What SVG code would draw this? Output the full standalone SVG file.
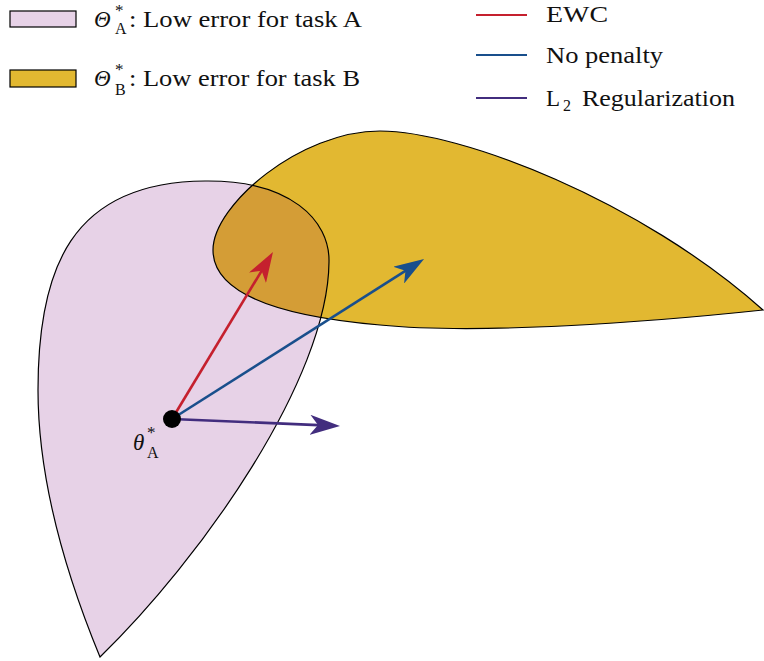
<svg xmlns="http://www.w3.org/2000/svg" xmlns:xlink="http://www.w3.org/1999/xlink" width="764" height="661" viewBox="0 0 764 661">
<style>
  text { font-family: "Liberation Serif", "Times New Roman", serif; fill: #111; font-size: 23px; }
  .it { font-style: italic; }
  .sub { font-size: 16px; font-style: normal; }
  .ast { font-size: 17px; font-style: normal; }
  .outline { fill: none; stroke: #000; stroke-width: 1.2; }
  .arrow { fill: none; stroke-width: 2.6; }
</style>
<defs>
  <path id="shapeA" d="M100,657 C60,560 38,470 38,390 C38,270 70,182 205,181 C290,180 330,220 329,262 C328,380 200,560 100,657 Z"/>
  <path id="shapeB" d="M213,250 C213,205 300,131 380,131 C460,131 640,200 763,310 C650,322 480,335 380,325 C300,318 213,300 213,250 Z"/>
  <clipPath id="clipA"><use xlink:href="#shapeA"/></clipPath>
  <marker id="headRed" viewBox="0 0 30 20" refX="20" refY="10" markerWidth="30" markerHeight="20" markerUnits="userSpaceOnUse" orient="auto">
    <path d="M30,10 L0,0 L8,10 L0,20 Z" fill="#c5202e"/>
  </marker>
  <marker id="headBlue" viewBox="0 0 30 20" refX="20" refY="10" markerWidth="30" markerHeight="20" markerUnits="userSpaceOnUse" orient="auto">
    <path d="M30,10 L0,0 L8,10 L0,20 Z" fill="#194f8c"/>
  </marker>
  <marker id="headPurple" viewBox="0 0 30 20" refX="20" refY="10" markerWidth="30" markerHeight="20" markerUnits="userSpaceOnUse" orient="auto">
    <path d="M30,10 L0,0 L8,10 L0,20 Z" fill="#422d7e"/>
  </marker>
</defs>

<g id="region-A">
  <use xlink:href="#shapeA" fill="#e7d2e7"/>
</g>
<g id="region-B">
  <use xlink:href="#shapeB" fill="#e2b831"/>
</g>
<g id="overlap">
  <use xlink:href="#shapeB" fill="#d49d36" clip-path="url(#clipA)"/>
  <use xlink:href="#shapeA" class="outline"/>
  <use xlink:href="#shapeB" class="outline"/>
</g>

<g id="arrows">
  <line class="arrow" x1="172" y1="419" x2="267.8" y2="260.6" stroke="#c5202e" marker-end="url(#headRed)"/>
  <line class="arrow" x1="172" y1="419" x2="415.6" y2="264.4" stroke="#194f8c" marker-end="url(#headBlue)"/>
  <line class="arrow" x1="172" y1="419" x2="330" y2="425.6" stroke="#422d7e" marker-end="url(#headPurple)"/>
</g>

<g id="point-thetaA">
  <circle cx="172" cy="419" r="9" fill="#000"/>
  <text class="it" x="133" y="450" font-size="24">θ<tspan class="ast" x="147" y="438">*</tspan><tspan class="sub" x="147" y="458">A</tspan></text>
</g>

<g id="legend">
  <g id="legend-A">
    <rect x="10" y="11" width="66" height="16" fill="#e7d2e7" stroke="#000" stroke-width="1.2"/>
    <text class="it" x="94" y="27">Θ<tspan class="ast" x="115" y="15.5">*</tspan><tspan class="sub" x="115" y="34">A</tspan></text>
    <text x="129" y="27" textLength="233" lengthAdjust="spacingAndGlyphs">: Low error for task A</text>
  </g>
  <g id="legend-B">
    <rect x="10" y="70" width="66" height="17" fill="#e2b831" stroke="#000" stroke-width="1.2"/>
    <text class="it" x="94" y="86">Θ<tspan class="ast" x="115" y="75">*</tspan><tspan class="sub" x="115" y="95">B</tspan></text>
    <text x="129" y="86" textLength="231" lengthAdjust="spacingAndGlyphs">: Low error for task B</text>
  </g>
  <g id="legend-EWC">
    <line x1="476" y1="15" x2="527" y2="15" stroke="#c5202e" stroke-width="2.2"/>
    <text x="546" y="22" textLength="62" lengthAdjust="spacingAndGlyphs">EWC</text>
  </g>
  <g id="legend-nopenalty">
    <line x1="476" y1="55" x2="527" y2="55" stroke="#194f8c" stroke-width="2.2"/>
    <text x="546" y="63" textLength="117" lengthAdjust="spacingAndGlyphs">No penalty</text>
  </g>
  <g id="legend-L2">
    <line x1="476" y1="98" x2="527" y2="98" stroke="#422d7e" stroke-width="2.2"/>
    <text x="546" y="106">L<tspan class="sub" x="563" y="111">2</tspan></text>
    <text x="582" y="106" textLength="153" lengthAdjust="spacingAndGlyphs">Regularization</text>
  </g>
</g>
</svg>
